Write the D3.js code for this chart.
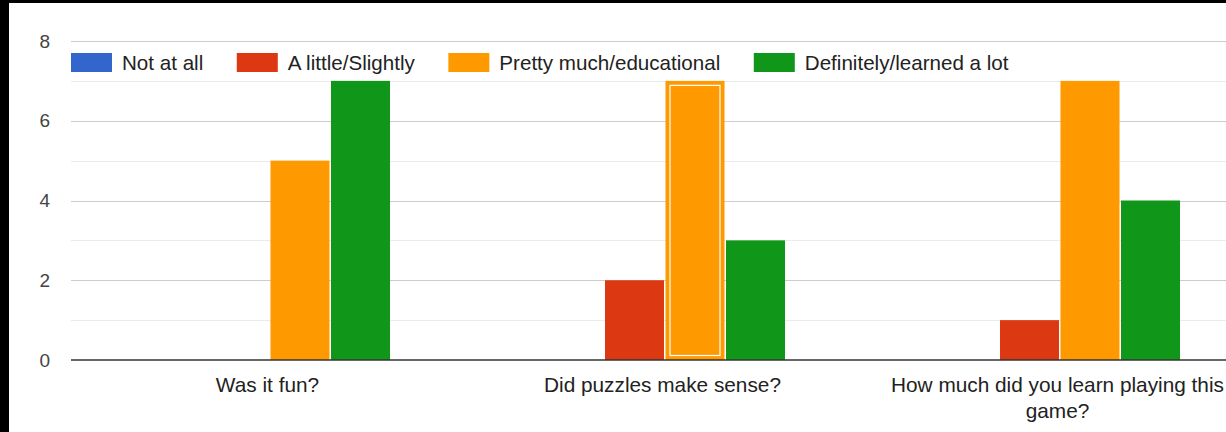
<!DOCTYPE html>
<html>
<head>
<meta charset="utf-8">
<script src="https://cdn.jsdelivr.net/npm/d3@7"></script>
<style>
  html, body { margin: 0; padding: 0; background: #fff; overflow: hidden; }
  text { font-family: "Liberation Sans", Arial, Helvetica, sans-serif; }
</style>
</head>
<body>
<div id="chart"></div>
<script>
// Survey answers per question
const questions = ["Was it fun?", "Did puzzles make sense?", "How much did you learn playing this game?"];
const answers = ["Not at all", "A little/Slightly", "Pretty much/educational", "Definitely/learned a lot"];
const notAtAll = [0, 0, 0];
const aLittle = [0, 2, 1];
const prettyMuch = [5, 7, 7];
const definitely = [7, 3, 4];
const yTicks = [0, 2, 4, 6, 8];
const colors = ["#3366cc", "#dc3912", "#ff9900", "#109618"];

const seriesValues = [notAtAll, aLittle, prettyMuch, definitely];
const data = questions.map((q, i) => ({
  question: q,
  values: answers.map((a, j) => ({ answer: a, value: seriesValues[j][i], color: colors[j] }))
}));

const W = 1226, H = 432;
const svg = d3.select("#chart").append("svg")
  .attr("width", W)
  .attr("height", H);

svg.append("rect").attr("width", W).attr("height", H).attr("fill", "#fff");

// Scales
const x0 = d3.scaleBand()
  .domain(questions)
  .range([72, 1257]);
const x1 = d3.scaleBand()
  .domain(answers)
  .range([76.5, 318.5]);
const y = d3.scaleLinear()
  .domain([0, 8])
  .range([360, 41]);

// Gridlines (major on even, minor on odd)
svg.append("g")
  .selectAll("line")
  .data(d3.range(1, 9))
  .join("line")
  .attr("x1", 71).attr("x2", W)
  .attr("y1", d => Math.round(y(d)) + 0.5)
  .attr("y2", d => Math.round(y(d)) + 0.5)
  .attr("stroke", d => d % 2 === 0 ? "#cccccc" : "#ebebeb")
  .attr("stroke-width", 1.2);

// Y axis labels
const yAxisG = svg.append("g")
  .attr("transform", "translate(50,0)")
  .call(d3.axisLeft(y).tickValues(yTicks).tickSize(0).tickPadding(0));
yAxisG.select(".domain").remove();
yAxisG.selectAll("text")
  .attr("font-size", "19px")
  .attr("fill", "#444")
  .style("font-family", "'Liberation Sans', Arial, sans-serif");

// Bars
const groups = svg.append("g")
  .selectAll("g")
  .data(data)
  .join("g")
  .attr("transform", d => `translate(${x0(d.question)},0)`);

groups.selectAll("rect")
  .data(d => d.values.filter(v => v.value > 0))
  .join("rect")
  .attr("x", d => x1(d.answer) + 1)
  .attr("width", x1.bandwidth() - 1.5)
  .attr("y", d => y(d.value))
  .attr("height", d => y(0) - y(d.value))
  .attr("fill", d => d.color);

// Hovered bar: "Did puzzles make sense?" / "Pretty much/educational"
const hq = questions[1], ha = answers[2];
const hv = prettyMuch[1];
svg.append("rect")
  .attr("x", x0(hq) + x1(ha) + 1 + 4.5)
  .attr("y", y(hv) + 4.5)
  .attr("width", x1.bandwidth() - 1.5 - 9)
  .attr("height", y(0) - y(hv) - 9)
  .attr("fill", "none")
  .attr("stroke", "#fff")
  .attr("stroke-width", 1.2);

// Baseline
svg.append("line")
  .attr("x1", 71).attr("x2", W)
  .attr("y1", y(0)).attr("y2", y(0))
  .attr("stroke", "#333")
  .attr("stroke-width", 1.5);

// Category labels, wrapped
const labelG = svg.append("g");
data.forEach(d => {
  const t = labelG.append("text")
    .attr("x", x0(d.question) + x0.bandwidth() / 2 - 2)
    .attr("y", 392)
    .attr("text-anchor", "middle")
    .attr("font-size", "20.8px")
    .attr("fill", "#222");
  const words = d.question.split(" ");
  let line = [];
  let tspan = t.append("tspan").attr("x", t.attr("x")).attr("dy", 0);
  words.forEach(w => {
    line.push(w);
    tspan.text(line.join(" "));
    if (tspan.node().getComputedTextLength() > 360 && line.length > 1) {
      line.pop();
      tspan.text(line.join(" "));
      line = [w];
      tspan = t.append("tspan").attr("x", t.attr("x")).attr("dy", 26).text(w);
    }
  });
});

// Legend
const legend = svg.append("g").attr("transform", "translate(71,53)");
let lx = 0;
answers.forEach((a, i) => {
  const item = legend.append("g").attr("transform", `translate(${lx},0)`);
  item.append("rect")
    .attr("width", 41).attr("height", 19)
    .attr("fill", colors[i]);
  const txt = item.append("text")
    .attr("x", 51).attr("y", 17)
    .attr("font-size", "20.6px")
    .attr("fill", "#222")
    .text(a);
  lx += 51 + txt.node().getComputedTextLength() + 33.5;
});

// Screenshot frame edges
svg.append("rect").attr("x", 0).attr("y", 0).attr("width", W).attr("height", 3).attr("fill", "#000");
svg.append("rect").attr("x", 0).attr("y", 0).attr("width", 9).attr("height", H).attr("fill", "#000");
</script>
</body>
</html>
